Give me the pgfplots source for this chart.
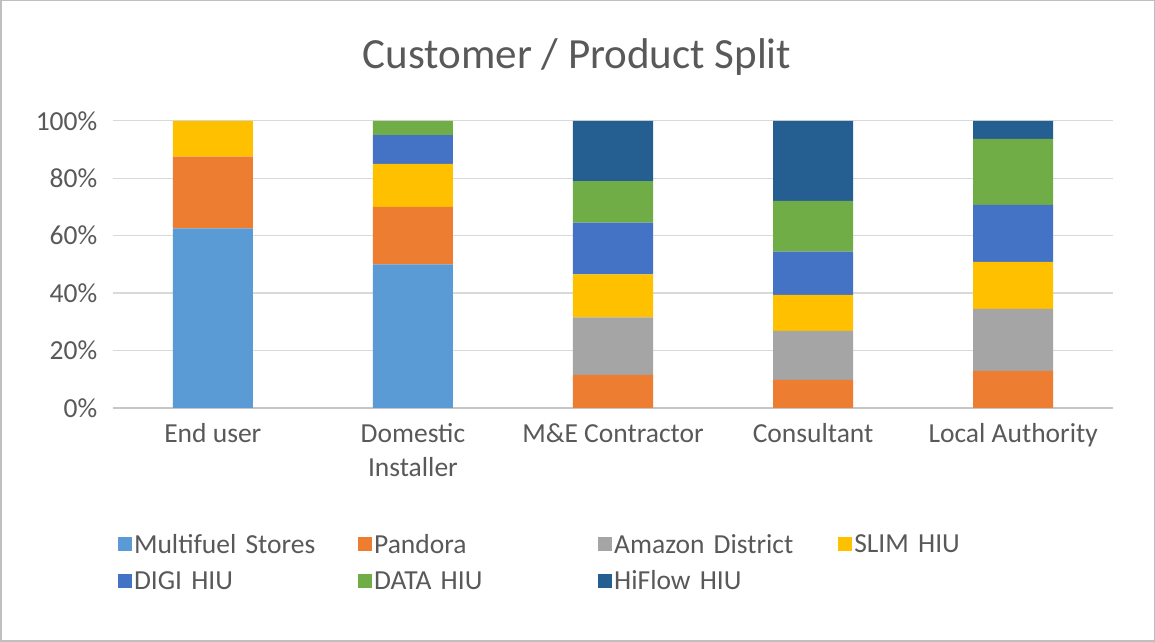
\documentclass[border=0pt]{standalone}
\usepackage{pgfplots}
\pgfplotsset{compat=1.18}
\usepackage{fontspec}
\setmainfont{Carlito}
\definecolor{c1}{HTML}{5B9BD5}
\definecolor{c2}{HTML}{ED7D31}
\definecolor{c3}{HTML}{A5A5A5}
\definecolor{c4}{HTML}{FFC000}
\definecolor{c5}{HTML}{4472C4}
\definecolor{c6}{HTML}{70AD47}
\definecolor{c7}{HTML}{255E91}
\definecolor{tx}{HTML}{595959}
\begin{document}
\begin{tikzpicture}[x=1pt,y=1pt]
\draw[fill=white,draw=gray!50,line width=1.5pt] (1,1) rectangle (1154,641);
\node[text=tx,font=\fontsize{43}{50}\selectfont] at (577,585) {Customer / Product Split};
\begin{axis}[at={(113pt,234pt)},anchor=south west,scale only axis,
 width=1000pt,height=287pt,
 ybar stacked,bar width=80pt,
 xmin=-0.5,xmax=4.5,ymin=0,ymax=100,
 xtick=data,xticklabels={End user,Domestic\\Installer,M\&E Contractor,Consultant,Local Authority},
 xticklabel style={align=center,text=tx,font=\fontsize{27.5}{34}\selectfont,yshift=-12pt},
 ytick={0,20,40,60,80,100},yticklabel={\pgfmathprintnumber{\tick}\%},
 yticklabel style={text=tx,font=\fontsize{27.5}{32}\selectfont,xshift=-12pt},
 /pgf/number format/assume math mode=true,
 ymajorgrids,grid style={draw=gray!30,line width=1.2pt},
 axis line style={draw=none},tick style={draw=none},
 axis x line*=bottom,
 extra y ticks={0},extra y tick labels={},extra y tick style={grid style={draw=gray!45,line width=1.2pt}},
 legend columns=4,
 legend style={at={(2pt,-122pt)},anchor=north west,draw=none,fill=none,
   font=\fontsize{27.5}{32}\selectfont,text=tx,
   nodes={text width=222pt,align=left,inner sep=2pt},
   row sep=12pt,column sep=0pt},
 legend image code/.code={\fill[#1] (0pt,-7pt) rectangle (14pt,7pt);},
]
\addplot[fill=c1,draw=none] coordinates {(0,62.5) (1,50) (2,0) (3,0) (4,0)};
\addplot[fill=c2,draw=none] coordinates {(0,25) (1,20) (2,11.5) (3,9.8) (4,12.9)};
\addplot[fill=c3,draw=none] coordinates {(0,0) (1,0) (2,20) (3,17) (4,21.6)};
\addplot[fill=c4,draw=none] coordinates {(0,12.5) (1,15) (2,15) (3,12.6) (4,16.4)};
\addplot[fill=c5,draw=none] coordinates {(0,0) (1,10) (2,18) (3,15) (4,19.8)};
\addplot[fill=c6,draw=none] coordinates {(0,0) (1,5) (2,14.5) (3,17.7) (4,23)};
\addplot[fill=c7,draw=none] coordinates {(0,0) (1,0) (2,21) (3,27.9) (4,6.3)};
\legend{Multifuel Stores,Pandora,Amazon District,SLIM HIU,DIGI HIU,DATA HIU,HiFlow HIU}
\end{axis}
\end{tikzpicture}
\end{document}
